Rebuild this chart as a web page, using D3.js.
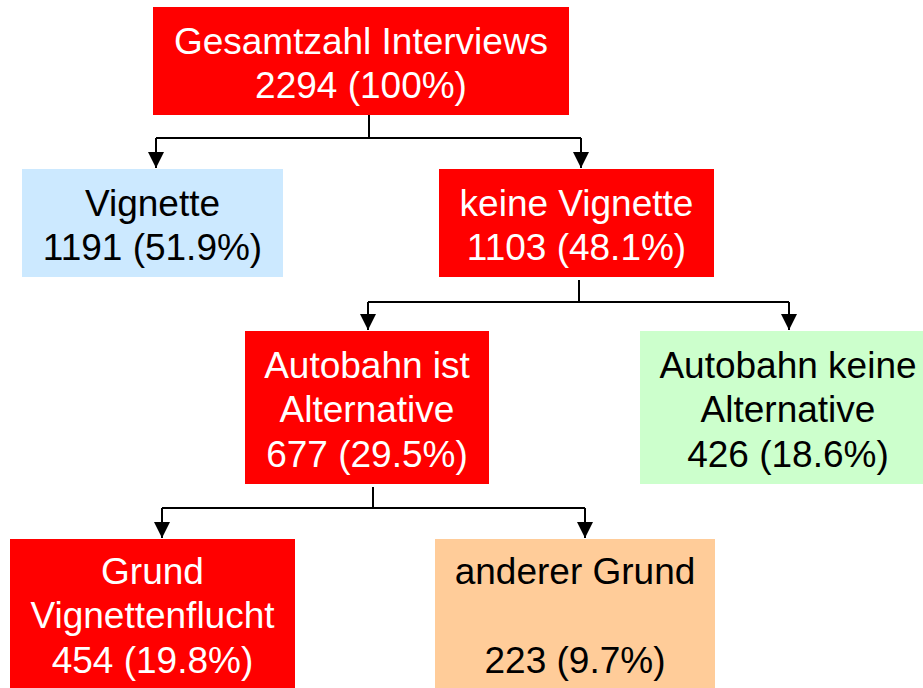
<!DOCTYPE html>
<html>
<head>
<meta charset="utf-8">
<script src="https://cdn.jsdelivr.net/npm/d3@7"></script>
<style>
  body { margin: 0; background: #fff; }
  svg { display: block; }
</style>
</head>
<body>
<div class="chart"></div>
<script>
// node data
const ids = ["root", "vig", "novig", "alt", "noalt", "flucht", "other"];
const labels = [
  ["Gesamtzahl Interviews"],
  ["Vignette"],
  ["keine Vignette"],
  ["Autobahn ist", "Alternative"],
  ["Autobahn keine", "Alternative"],
  ["Grund", "Vignettenflucht"],
  ["anderer Grund", ""]
];
const counts = [2294, 1191, 1103, 677, 426, 454, 223];
const shares = ["100%", "51.9%", "48.1%", "29.5%", "18.6%", "19.8%", "9.7%"];
const parents = [null, "root", "root", "novig", "novig", "alt", "alt"];

const fills = {root: "#ff0000", vig: "#cce9ff", novig: "#ff0000", alt: "#ff0000",
  noalt: "#ccffcc", flucht: "#ff0000", other: "#ffcc99"};
const textCol = {root: "#fff", vig: "#000", novig: "#fff", alt: "#fff",
  noalt: "#000", flucht: "#fff", other: "#000"};

// box layout [x, y, w, h] and arrow x / connector bar y
const boxes = {
  root:   [153, 7, 416, 108],
  vig:    [22, 169, 261, 108],
  novig:  [439, 169, 275, 108],
  alt:    [245, 331, 244, 153],
  noalt:  [640, 331, 296, 153],
  flucht: [10, 539, 285, 149],
  other:  [435, 539, 280, 149]
};
const arrowX = {vig: 156, novig: 581, alt: 368, noalt: 789, flucht: 162, other: 585};
const stem = {root: {x: 369, y0: 115, bar: 138}, novig: {x: 579, y0: 280, bar: 302},
  alt: {x: 373, y0: 487, bar: 508}};

const width = 923, height = 688;
const fontSize = 37, lineH = 44.5;

const svg = d3.select(".chart").append("svg")
    .attr("width", width)
    .attr("height", height);

svg.append("defs").append("marker")
    .attr("id", "arr")
    .attr("viewBox", "0 0 16 16")
    .attr("refX", 16).attr("refY", 8)
    .attr("markerWidth", 17).attr("markerHeight", 16)
    .attr("markerUnits", "userSpaceOnUse")
    .attr("orient", "auto")
  .append("path")
    .attr("d", "M0,0L16,8L0,16Z")
    .attr("fill", "#000");

const nodes = ids.map((id, i) => ({
  id, parent: parents[i],
  lines: labels[i].concat([counts[i] + " (" + shares[i] + ")"])
}));

// connectors
const links = svg.append("g");
Object.keys(stem).forEach(p => {
  const s = stem[p];
  const kids = nodes.filter(n => n.parent === p);
  const xs = kids.map(k => arrowX[k.id]);
  links.append("path")
      .attr("d", d3.line()([[s.x, s.y0], [s.x, s.bar]]))
      .attr("stroke", "#000").attr("stroke-width", 2).attr("fill", "none");
  links.append("path")
      .attr("d", d3.line()([[d3.min(xs), s.bar], [d3.max(xs), s.bar]]))
      .attr("stroke", "#000").attr("stroke-width", 2).attr("fill", "none");
  kids.forEach(k => {
    links.append("path")
        .attr("d", d3.line()([[arrowX[k.id], s.bar], [arrowX[k.id], boxes[k.id][1] - 1]]))
        .attr("stroke", "#000").attr("stroke-width", 2).attr("fill", "none")
        .attr("marker-end", "url(#arr)");
  });
});

// boxes
const g = svg.selectAll("g.node")
  .data(nodes)
  .join("g")
    .attr("class", "node");

g.append("rect")
    .attr("x", d => boxes[d.id][0])
    .attr("y", d => boxes[d.id][1])
    .attr("width", d => boxes[d.id][2])
    .attr("height", d => boxes[d.id][3])
    .attr("fill", d => fills[d.id]);

g.each(function(d) {
  const b = boxes[d.id];
  const cx = b[0] + b[2] / 2, cy = b[1] + b[3] / 2;
  const top = cy - d.lines.length * lineH / 2;
  d3.select(this).selectAll("text")
    .data(d.lines)
    .join("text")
      .attr("x", cx)
      .attr("y", (t, i) => top + 37 + i * lineH)
      .attr("text-anchor", "middle")
      .attr("font-family", "'Liberation Sans', Arial, sans-serif")
      .attr("font-size", fontSize)
      .attr("fill", textCol[d.id])
      .text(t => t);
});
</script>
</body>
</html>
